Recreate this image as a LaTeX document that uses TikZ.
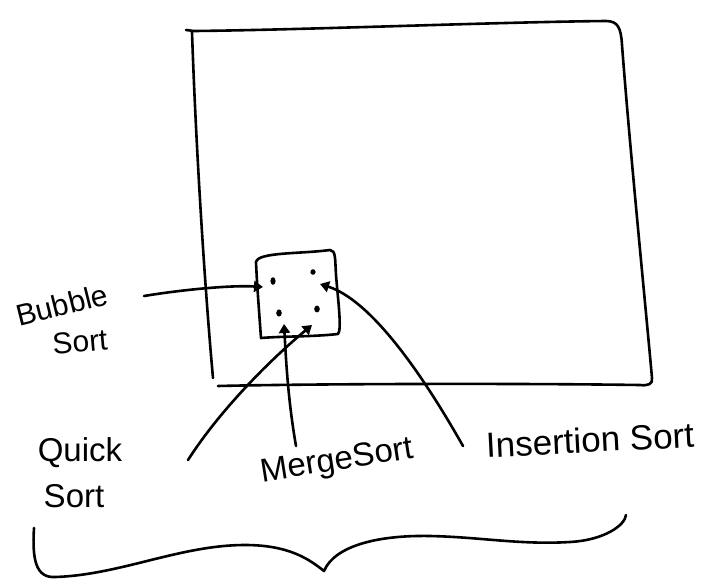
\documentclass[tikz,border=0pt]{standalone}
\usepackage{fontspec}
\setmainfont{Liberation Sans}
\usetikzlibrary{arrows.meta}
\begin{document}
\begin{tikzpicture}[x=1pt,y=-1pt,
  ink/.style={line width=2.6pt,line cap=round,line join=round},
  arr/.style={ink,-{Stealth[length=9pt,width=11pt,inset=0pt]}},
  lbl/.style={font=\fontsize{30}{32}\selectfont,inner sep=1pt},
  biglbl/.style={font=\fontsize{33}{35}\selectfont,inner sep=1pt},
]
\useasboundingbox (0,0) rectangle (712,584);
% big frame
\draw[ink] (186,30) -- (194,31) .. controls (300,30) and (500,22) .. (606,21)
  .. controls (618,21) and (621,28) .. (622,45)
  .. controls (630,150) and (645,300) .. (652,378)
  .. controls (653,384) and (648,386) .. (640,385)
  .. controls (500,383) and (300,384) .. (218,386);
\draw[ink] (192,32) .. controls (196,150) and (205,290) .. (213,378);
% small box
\draw[ink] (256,262) .. controls (258,252) and (300,254) .. (330,250)
  .. controls (336,250) and (335,260) .. (336,275)
  .. controls (338,300) and (342,330) .. (338,334)
  .. controls (310,337) and (285,336) .. (261,338)
  .. controls (259,310) and (257,285) .. (256,262);
% dots
\fill (273,281) ellipse (2.6pt and 3.8pt);
\fill (313,272) ellipse (2.6pt and 2.8pt);
\fill (279,313) ellipse (2.8pt and 3.6pt);
\fill (317,309) ellipse (2.8pt and 3.4pt);
\coordinate (bs) at (263,287);
\coordinate (qs) at (312,325);
\coordinate (ms) at (284,324);
\coordinate (is) at (320,284);
% labels
\node[lbl,rotate=14] (bubble) at (62,305) {Bubble};
\node[lbl,rotate=5] (bsort) at (80,342) {Sort};
\node[biglbl] (quick) at (80,453) {Quick};
\node[biglbl] (qsort) at (74,496) {Sort};
\node[biglbl,rotate=9] (merge) at (337,462) {MergeSort};
\node[biglbl,rotate=3,font=\fontsize{35}{37}\selectfont] (ins) at (590,440) {Insertion Sort};
% arrows
\draw[arr] (144,296) .. controls (180,290) and (230,285) .. (bs);
\draw[arr] (188,460) .. controls (220,410) and (270,360) .. (qs);
\draw[arr] (296,446) .. controls (288,400) and (286,360) .. (ms);
\draw[arr] (463,446) .. controls (420,370) and (370,300) .. (is);
% brace
\draw[ink] (34,528) .. controls (32,560) and (36,578) .. (55,577)
  .. controls (120,575) and (180,545) .. (245,545)
  .. controls (290,545) and (310,560) .. (324,571)
  .. controls (335,545) and (380,535) .. (430,536)
  .. controls (480,537) and (520,545) .. (570,542)
  .. controls (605,540) and (625,525) .. (626,515);
\end{tikzpicture}
\end{document}
